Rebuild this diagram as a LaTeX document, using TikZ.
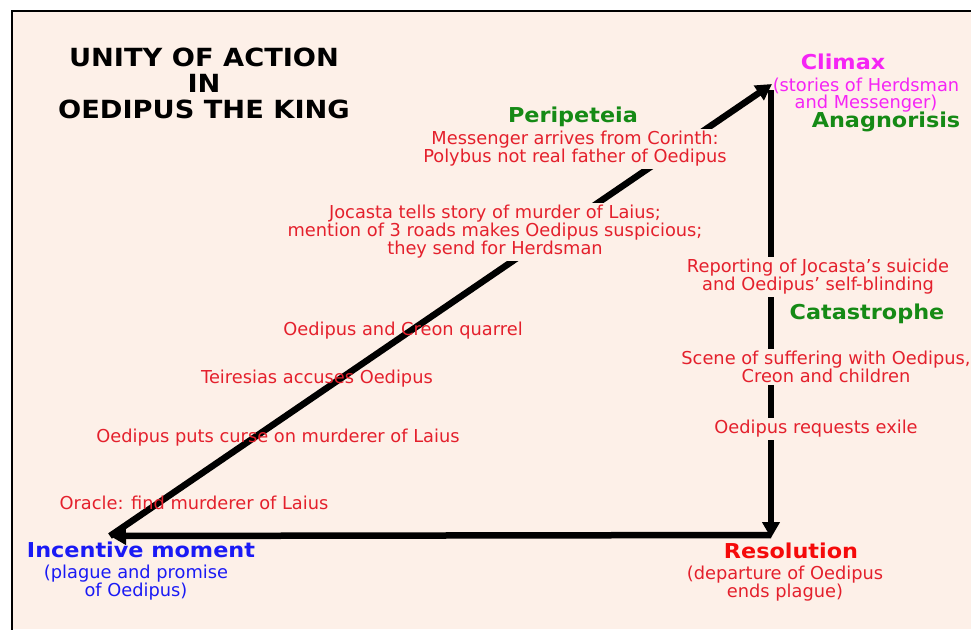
\documentclass[tikz,border=0pt]{standalone}
\usepackage{fontspec}
\setmainfont{DejaVu Sans}
\newfontfamily\boldf[FakeStretch=1.09]{DejaVu Sans}
\usetikzlibrary{arrows.meta}
\definecolor{bg}{HTML}{FDF0E8}
\definecolor{evred}{HTML}{E4202C}
\definecolor{resred}{HTML}{F50A0A}
\definecolor{grn}{HTML}{158A15}
\definecolor{mag}{HTML}{F524F5}
\definecolor{blu}{HTML}{1A1AF5}
\tikzset{
  ev/.style={text=evred, font=\fontsize{17.8}{18}\selectfont, align=center, inner sep=2pt},
  evf/.style={ev, fill=bg},
  lab/.style={font=\boldf\bfseries\fontsize{20.5}{22}\selectfont, inner sep=1pt},
  ttl/.style={font=\boldf\bfseries\fontsize{25}{26}\selectfont, align=center, inner sep=0pt},
  arr/.style={line width=6.5pt, -{Triangle[length=16pt,width=17pt]}},
  frame/.style={line width=1.5pt, line cap=rect}
}
\begin{document}
\begin{tikzpicture}[x=1pt,y=-1pt]
\useasboundingbox (0,0) rectangle (971,629);
\fill[white] (0,0) rectangle (971,629);
\fill[bg] (12,11) rectangle (971,629);
\draw[frame] (12,629) -- (12,11) -- (971,11);
% corners
\coordinate (A) at (110,536);
\coordinate (B) at (772,84);
\coordinate (B2) at (771,90);
\coordinate (C) at (771,538);
\coordinate (C2) at (771,535);
\draw[arr] (A) -- (B);
\draw[arr] (B2) -- (C);
\draw[arr] (C2) -- (A);
% title
\node[ttl] (title) at (204,83) {UNITY OF ACTION\\IN\\OEDIPUS THE KING};
% climax
\node[lab,text=mag] (climax) at (843,62) {Climax};
\node[ev,text=mag,font=\fontsize{17.8}{16.5}\selectfont] (climaxsub) at (866,95) {(stories of Herdsman\\and Messenger)};
\node[lab,text=grn] (anag) at (886,122) {Anagnorisis};
% diagonal events
\node[lab,text=grn] (perip) at (573,117) {Peripeteia};
\node[evf] (messenger) at (575,149) {Messenger arrives from Corinth:\\Polybus not real father of Oedipus};
\node[evf] (jocasta) at (495,232) {Jocasta tells story of murder of Laius;\\mention of 3 roads makes Oedipus suspicious;\\they send for Herdsman};
\node[ev] (creon) at (403,331) {Oedipus and Creon quarrel};
\node[ev] (teir) at (317,379) {Teiresias accuses Oedipus};
\node[ev] (curse) at (278,438) {Oedipus puts curse on murderer of Laius};
\node[ev] (oracle) at (194,503) {Oracle: find murderer of Laius};
% incentive
\node[lab,text=blu] (incent) at (141,550) {Incentive moment};
\node[ev,text=blu] (incsub) at (136,583) {(plague and promise\\of Oedipus)};
% resolution
\node[lab,text=resred] (resol) at (791,551) {Resolution};
\node[ev] (ressub) at (785,584) {(departure of Oedipus\\ends plague)};
% vertical events
\node[evf] (report) at (818,277) {Reporting of Jocasta's suicide\\and Oedipus' self-blinding};
\node[lab,text=grn] (catas) at (867,314) {Catastrophe};
\node[evf] (scene) at (826,367) {Scene of suffering with Oedipus,\\Creon and children};
\node[evf] (exile) at (816,429) {Oedipus requests exile};
\end{tikzpicture}
\end{document}
